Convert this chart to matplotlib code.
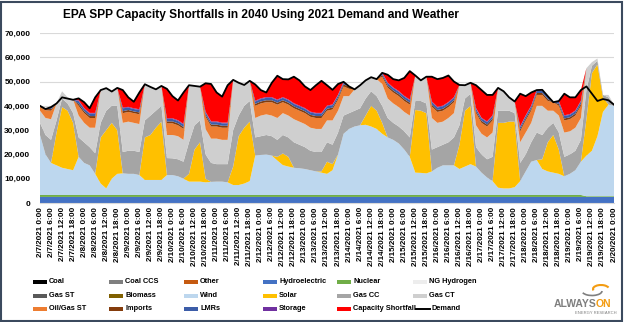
import matplotlib
matplotlib.use("Agg")
import matplotlib.pyplot as plt
from matplotlib.patches import Rectangle, Arc
from matplotlib.lines import Line2D
from matplotlib.ticker import FuncFormatter
import numpy as np

plt.rcParams['font.family'] = ['Liberation Sans', 'DejaVu Sans']

# hours since 2/7/2021 0:00, sampled every 3 hours
hours = list(range(0, 313, 3))

tick_labels = [
    "2/7/2021 0:00", "2/7/2021 6:00", "2/7/2021 12:00", "2/7/2021 18:00",
    "2/8/2021 0:00", "2/8/2021 6:00", "2/8/2021 12:00", "2/8/2021 18:00",
    "2/9/2021 0:00", "2/9/2021 6:00", "2/9/2021 12:00", "2/9/2021 18:00",
    "2/10/2021 0:00", "2/10/2021 6:00", "2/10/2021 12:00", "2/10/2021 18:00",
    "2/11/2021 0:00", "2/11/2021 6:00", "2/11/2021 12:00", "2/11/2021 18:00",
    "2/12/2021 0:00", "2/12/2021 6:00", "2/12/2021 12:00", "2/12/2021 18:00",
    "2/13/2021 0:00", "2/13/2021 6:00", "2/13/2021 12:00", "2/13/2021 18:00",
    "2/14/2021 0:00", "2/14/2021 6:00", "2/14/2021 12:00", "2/14/2021 18:00",
    "2/15/2021 0:00", "2/15/2021 6:00", "2/15/2021 12:00", "2/15/2021 18:00",
    "2/16/2021 0:00", "2/16/2021 6:00", "2/16/2021 12:00", "2/16/2021 18:00",
    "2/17/2021 0:00", "2/17/2021 6:00", "2/17/2021 12:00", "2/17/2021 18:00",
    "2/18/2021 0:00", "2/18/2021 6:00", "2/18/2021 12:00", "2/18/2021 18:00",
    "2/19/2021 0:00", "2/19/2021 6:00", "2/19/2021 12:00", "2/19/2021 18:00",
    "2/20/2021 0:00",
]

# values in thousand MW
demand = [
    40.0, 38.7, 39.5, 41.0, 43.5, 43.0, 42.5,
    43.1, 41.5, 39.0, 43.5, 46.5, 47.3, 45.9, 47.4,
    46.5, 43.5, 41.7, 45.5, 48.9, 47.8, 46.8, 48.2,
    47.0, 44.0, 42.2, 45.5, 48.5, 48.2, 47.9,
    49.3, 49.0, 45.5, 43.8, 48.5, 50.7, 49.5, 48.6, 50.3,
    48.8, 46.5, 45.5, 49.5, 52.4, 51.0, 50.9, 52.0, 50.5,
    48.0, 46.5, 48.5, 50.3, 48.5, 46.6, 49.0, 49.9,
    48.0, 46.8, 48.5, 50.5, 51.8, 51.0, 53.6,
    52.8, 51.0, 50.5, 51.5, 54.3, 52.5, 50.5, 52.0,
    52.0, 51.0, 51.5, 52.5, 50.0, 48.6, 48.5, 49.5,
    48.5, 46.5, 44.5, 44.5, 47.4, 46.0, 43.5, 41.8,
    45.0, 44.0, 45.5, 46.5, 46.6, 44.0, 41.5, 42.0,
    45.0, 43.5, 43.5, 46.5, 48.0, 45.0, 42.0, 42.8, 42.3, 40.5,
]

hydro = [
    2.5, 2.5, 2.5, 2.5, 2.5, 2.5, 2.5, 2.5, 2.5, 2.5, 2.5, 2.5, 2.5, 2.5, 2.5,
    2.5, 2.5, 2.5, 2.5, 2.5, 2.5, 2.5, 2.5, 2.5, 2.5, 2.5, 2.5, 2.5, 2.5, 2.5,
    2.5, 2.5, 2.5, 2.5, 2.5, 2.5, 2.5, 2.5, 2.5, 2.5, 2.5, 2.5, 2.5, 2.5, 2.5,
    2.5, 2.5, 2.5, 2.5, 2.5, 2.5, 2.5, 2.5, 2.5, 2.5, 2.5, 2.5, 2.5, 2.5, 2.5,
    2.5, 2.5, 2.5, 2.5, 2.5, 2.5, 2.5, 2.5, 2.5, 2.5, 2.5, 2.5, 2.5, 2.5, 2.5,
    2.5, 2.5, 2.5, 2.5, 2.5, 2.5, 2.5, 2.5, 2.5, 2.5, 2.5, 2.5, 2.5, 2.5, 2.5,
    2.5, 2.5, 2.5, 2.5, 2.5, 2.5, 2.5, 2.5, 2.5, 2.5, 2.5, 2.5, 2.5, 2.5, 2.5,
]

nuclear = [
    0.8, 0.8, 0.8, 0.8, 0.8, 0.8, 0.8, 0.8, 0.8, 0.8, 0.8, 0.8, 0.8, 0.8, 0.8,
    0.8, 0.8, 0.8, 0.8, 0.8, 0.8, 0.8, 0.8, 0.8, 0.8, 0.8, 0.8, 0.8, 0.8, 0.8,
    0.8, 0.8, 0.8, 0.8, 0.8, 0.8, 0.8, 0.8, 0.8, 0.8, 0.8, 0.8, 0.8, 0.8, 0.8,
    0.8, 0.8, 0.8, 0.8, 0.8, 0.8, 0.8, 0.8, 0.8, 0.8, 0.8, 0.8, 0.8, 0.8, 0.8,
    0.8, 0.8, 0.8, 0.8, 0.8, 0.8, 0.8, 0.8, 0.8, 0.8, 0.8, 0.8, 0.8, 0.8, 0.8,
    0.8, 0.8, 0.8, 0.8, 0.8, 0.8, 0.8, 0.8, 0.8, 0.8, 0.8, 0.8, 0.8, 0.8, 0.8,
    0.8, 0.8, 0.8, 0.8, 0.8, 0.8, 0.8, 0.8, 0.8, 0.3, 0.3, 0.3, 0.3, 0.3, 0.3,
]

wind = [
    24.7, 16.7, 13.2, 12.2, 11.2, 10.7, 10.2,
    15.7, 13.2, 12.2, 8.7, 4.7, 2.7, 6.7, 8.7,
    8.9, 8.7, 8.7, 8.2, 6.2, 6.2, 6.2, 6.2,
    8.2, 8.2, 7.7, 6.7, 5.5, 5.5, 5.5,
    5.2, 5.4, 5.5, 5.5, 5.2, 4.1, 4.1, 4.7, 5.7,
    16.2, 16.5, 16.7, 16.2, 14.2, 12.3, 11.7, 11.2, 11.0,
    10.7, 10.2, 9.7, 9.2, 8.7, 10.2, 16.7, 25.2,
    27.2, 28.2, 28.7, 28.9, 28.2, 27.2, 25.2,
    23.7, 22.7, 21.2, 18.7, 15.7, 9.2, 9.1, 8.9,
    9.7, 11.2, 12.2, 12.2, 12.2, 10.7, 11.7, 12.7,
    11.7, 9.2, 7.2, 5.7, 3.0, 2.7, 2.7, 3.2,
    5.7, 9.7, 13.7, 14.4, 10.7, 9.7, 9.2, 8.7,
    7.7, 8.7, 10.2, 13.7, 16.7, 18.7, 24.7, 34.7, 37.7, 37.2,
]

solar = [
    0, 0, 0, 13.5, 25, 24, 19.5,
    0, 0, 0, 0, 19, 24, 23, 18,
    0, 0, 0, 0, 17.5, 18.5, 21.5, 24,
    0, 0, 0, 0, 3.2, 13.2, 16.2,
    1.5, 0, 0, 0, 0, 7.6, 20.1, 23, 24.5,
    0, 0, 0, 0, 1.5, 4.8, 4, 0, 0,
    0, 0, 0, 0.5, 5, 2.5, 0, 0,
    0, 0, 0, 3.8, 8.5, 7.5, 4.5,
    0, 0, 0, 0, 0, 25.8, 25.6, 24.8,
    0, 0, 0, 0, 0, 10, 23, 24,
    0, 0, 0, 0, 26.7, 27, 27.5, 27,
    0, 0, 0, 0, 4, 12, 15.5, 10,
    0, 0, 0, 0, 15, 32, 29.5, 6, 0, 0,
]

gas_cc = [
    5, 8, 9.5, 5, 3.5, 3, 4,
    8, 8.5, 7.5, 8.5, 6, 8, 7, 10,
    8.8, 9.5, 9.5, 9.5, 7, 8, 7, 6.5,
    7, 6.9, 7, 7, 13, 10, 9,
    10, 7.8, 7.2, 7.2, 7.5, 15, 8.5, 9, 8.5,
    7.5, 7.7, 8, 8, 7, 7.6, 8, 10.5, 9.7,
    9, 8, 8, 8, 8, 8, 9, 7.5,
    6.5, 6.5, 7, 7, 6, 6, 7,
    8, 7, 7, 7.5, 8, 3.7, 4, 4,
    9, 8.5, 8.5, 9.5, 11.5, 8, 5, 5,
    8, 7.5, 7.5, 10, 5, 5, 4.5, 3.5,
    7.5, 7, 8, 11.3, 10, 6, 5, 7,
    8, 8, 8, 9, 12, 3, 1.5, 1, 3, 0.5,
]

gas_ct = [
    5, 7, 8.5, 7, 3, 2.5, 5.5,
    9, 8, 8, 10.5, 13.5, 9.3, 5.9, 7.4,
    12, 12, 11.5, 11.5, 14.9, 11.8, 8.8, 8.2,
    9.5, 9.6, 9.5, 9, 23.5, 16.2, 13.9,
    10.5, 10, 10.5, 10, 10, 20.7, 13.5, 8.6, 8.3,
    8, 8.5, 8.5, 8.5, 9, 9, 9, 9.5, 9.5,
    9.5, 9.5, 9.5, 9.5, 9, 10, 9, 8,
    7, 8.8, 9.5, 7.5, 5.8, 7, 9,
    8, 8, 8, 8, 9, 10.5, 8.5, 11,
    13, 10, 9.5, 10, 10, 16.6, 5.5, 4.5,
    9, 8.5, 9, 10, 9.4, 8, 5.5, 4.8,
    8.5, 9, 8, 11, 12, 7, 5, 7,
    10, 9.5, 9.5, 9, 9, 1.5, 1, 0, 1, 0,
]

oil_gas_st = [
    1.5, 3.2, 3.5, 0, 0, 0, 0,
    4, 4, 4, 4, 0, 0, 0, 0,
    4, 4, 4, 4, 0, 0, 0, 0,
    4.8, 4.8, 4.5, 4.5, 0, 0, 0,
    5, 5, 5, 5, 5, 0, 0, 0, 0,
    5, 5, 5, 5.5, 5.5, 4.5, 4.5, 4.5, 4.5,
    4.5, 4.5, 4.5, 4.5, 4, 4.5, 4.5, 4,
    3, 0, 0, 0, 0, 0, 3,
    4.5, 4.5, 4.5, 4.5, 4.5, 0, 0, 0,
    4.7, 4.5, 4.5, 4.5, 4.5, 0, 0, 0,
    5, 4.5, 4.5, 5, 0, 0, 0, 0,
    4.5, 5, 5, 4.5, 4.5, 4, 3.5, 4,
    5, 5, 5, 5, 0, 0, 0, 0, 0, 0,
]

imports = [
    0.5, 0.5, 0.7, 0, 0, 0, 0,
    0.8, 0.8, 0.8, 0.8, 0, 0, 0, 0,
    0.8, 0.8, 0.7, 0.8, 0, 0, 0, 0,
    0.8, 0.8, 0.8, 0.8, 0, 0, 0,
    0.8, 0.8, 0.8, 0.8, 0.8, 0, 0, 0, 0,
    0.8, 0.8, 0.8, 0.8, 0.8, 0.8, 0.8, 0.8, 0.8,
    0.8, 0.8, 0.8, 0.8, 0.8, 0.8, 0.8, 0.8,
    1.0, 0, 0, 0, 0, 0, 0.7,
    0.8, 0.8, 0.8, 0.8, 0.8, 0, 0, 0,
    0.8, 0.8, 0.8, 0.8, 0.8, 0, 0, 0,
    0.8, 0.8, 0.8, 0.8, 0, 0, 0, 0,
    0.8, 0.8, 0.8, 0.8, 0.8, 0.8, 0, 0.8,
    0.8, 0.8, 0.8, 0.8, 0, 0, 0, 0, 0, 0,
]

lmrs = [
    0, 0, 0.8, 0, 0, 0, 0,
    1.2, 1.0, 1.0, 1.0, 0, 0, 0, 0,
    1.2, 1.0, 1.0, 1.0, 0, 0, 0, 0,
    1.0, 1.0, 1.0, 1.0, 0, 0, 0,
    1.0, 1.0, 1.0, 1.0, 1.0, 0, 0, 0, 0,
    1.0, 1.0, 1.0, 1.0, 1.0, 1.0, 1.0, 1.0, 1.0,
    1.0, 1.0, 1.0, 1.0, 1.0, 1.0, 1.0, 0.7,
    0, 0, 0, 0, 0, 0, 0.7,
    1.0, 1.0, 1.0, 1.0, 1.0, 0, 0, 0,
    1.0, 1.0, 1.0, 1.0, 1.0, 0, 0, 0,
    1.0, 1.0, 1.0, 1.0, 0, 0, 0, 0,
    1.0, 1.0, 1.0, 0.9, 1.0, 0.9, 0, 0.9,
    1.0, 1.0, 1.0, 1.0, 0, 0, 0, 0, 0, 0,
]

storage = [
    0, 0, 0, 0, 0, 0, 0,
    0.3, 0.3, 0.3, 0.3, 0, 0, 0, 0,
    0.3, 0.3, 0.3, 0.3, 0, 0, 0, 0,
    0.3, 0.3, 0.3, 0.3, 0, 0, 0,
    0.3, 0.3, 0.3, 0.3, 0.3, 0, 0, 0, 0,
    0.3, 0.3, 0.3, 0.3, 0.3, 0.3, 0.3, 0.3, 0.3,
    0.3, 0.3, 0.3, 0.3, 0.3, 0.3, 0.3, 0.4,
    0, 0, 0, 0, 0, 0, 0.2,
    0.3, 0.3, 0.3, 0.3, 0.3, 0, 0, 0,
    0.3, 0.3, 0.3, 0.3, 0.3, 0, 0, 0,
    0.3, 0.3, 0.3, 0.3, 0, 0, 0, 0,
    0.3, 0.3, 0.3, 0.3, 0.3, 0.3, 0, 0.3,
    0.3, 0.3, 0.3, 0.3, 0, 0, 0, 0, 0, 0,
]

shortfall = [
    0, 0, 0, 0, 0, 0, 0,
    0.8, 2.4, 1.9, 6.4, 0, 0, 0, 0,
    7.2, 3.9, 2.7, 6.9, 0, 0, 0, 0,
    12.1, 9.1, 8.1, 12.9, 0, 0, 0,
    11.7, 15.4, 11.9, 10.7, 15.4, 0, 0, 0, 0,
    6.7, 3.4, 1.9, 5.9, 9.8, 7.4, 8.3, 10.9, 10.4,
    8.9, 8.9, 11.4, 13.2, 8.4, 6.0, 4.4, 0,
    0, 0, 0, 0, 0, 0, 0,
    3.2, 3.4, 4.4, 7.4, 11.7, 0, 0, 0,
    10.2, 11.4, 11.4, 10.9, 6.4, 0, 0, 0,
    9.4, 11.4, 10.9, 8.4, 0, 0, 0, 0,
    13.4, 7.9, 5.4, 0, 0, 0, 0, 0,
    8.9, 6.9, 5.4, 4.4, 0, 0, 0, 0, 0, 0,
]

series_names = ["Hydroelectric", "Nuclear", "Wind", "Solar", "Gas CC", "Gas CT",
                "Oil/Gas ST", "Imports", "LMRs", "Storage", "Capacity Shortfall"]
series_vals = [hydro, nuclear, wind, solar, gas_cc, gas_ct,
               oil_gas_st, imports, lmrs, storage, shortfall]

legend_labels = ["Coal", "Coal CCS", "Other", "Hydroelectric", "Nuclear", "NG Hydrogen",
                 "Gas ST", "Biomass", "Wind", "Solar", "Gas CC", "Gas CT",
                 "Oil/Gas ST", "Imports", "LMRs", "Storage", "Capacity Shortfall", "Demand"]

color_map = {
    "Coal": "#000000", "Coal CCS": "#7F7F7F", "Other": "#C55A11",
    "Hydroelectric": "#4472C4", "Nuclear": "#70AD47", "NG Hydrogen": "#EDEDED",
    "Gas ST": "#595959", "Biomass": "#806000", "Wind": "#BDD7EE",
    "Solar": "#FFC000", "Gas CC": "#A5A5A5", "Gas CT": "#CFCFCF",
    "Oil/Gas ST": "#ED7D31", "Imports": "#843C0C", "LMRs": "#3C5DA8",
    "Storage": "#7030A0", "Capacity Shortfall": "#FF0000", "Demand": "#000000",
}

W, H = 624, 322
fig = plt.figure(figsize=(W / 100, H / 100), dpi=100)
fig.patch.set_facecolor("white")

ax = fig.add_axes([40 / W, 1 - 203 / H, 574 / W, 170 / H])
x = np.array(hours)
ax.stackplot(x, *[np.array(v) * 1000 for v in series_vals],
             colors=[color_map[n] for n in series_names], linewidth=0)
ax.plot(x, np.array(demand) * 1000, color="black", lw=1.3, zorder=5)

ax.set_xlim(0, 312)
ax.set_ylim(0, 70000)
ax.set_yticks(range(0, 70001, 10000))
ax.yaxis.set_major_formatter(FuncFormatter(lambda v, p: f"{int(v):,}"))
ax.set_xticks([i * 6 for i in range(len(tick_labels))])
ax.set_xticklabels(tick_labels, rotation=90, fontsize=5.8, fontweight="bold")
ax.tick_params(axis="both", length=0)
ax.tick_params(axis="y", labelsize=6, pad=7)
for lab in ax.get_yticklabels():
    lab.set_fontweight("bold")
ax.tick_params(axis="x", pad=3)
ax.yaxis.grid(True, color="#D9D9D9", lw=0.8)
ax.set_axisbelow(True)
for s in ["top", "right", "left"]:
    ax.spines[s].set_visible(False)
ax.spines["bottom"].set_color("#D9D9D9")

fig.text(261 / W, 1 - 15 / H,
         "EPA SPP Capacity Shortfalls in 2040 Using 2021 Demand and Weather",
         ha="center", va="center", fontsize=8.6, fontweight="bold")

# legend drawn manually in a 6 x 3 grid
col_x = [33, 109, 184, 263, 337, 413]
row_y = [281.5, 295.5, 309]
for i, lab in enumerate(legend_labels):
    r, c = divmod(i, 6)
    px = col_x[c]
    py = row_y[r]
    if lab == "Demand":
        fig.add_artist(Line2D([(px + 3) / W, (px + 17) / W], [1 - py / H, 1 - py / H],
                              color="black", lw=1.4))
        fig.text((px + 19) / W, 1 - py / H, lab, ha="left", va="center",
                 fontsize=5.3, fontweight="bold")
    else:
        fig.add_artist(Rectangle((px / W, 1 - (py + 2) / H), 14 / W, 4 / H,
                                 facecolor=color_map[lab], edgecolor="none"))
        fig.text((px + 16) / W, 1 - py / H, lab, ha="left", va="center",
                 fontsize=5.3, fontweight="bold")

# logo
fig.add_artist(Arc(((592) / W, 1 - 291 / H), 20 / W, 9 / H, theta1=200, theta2=360,
                   color="#7F7F7F", lw=1.2))
fig.add_artist(Arc(((601) / W, 1 - 289 / H), 16 / W, 8 / H, theta1=20, theta2=200,
                   color="#F39C12", lw=1.5))
fig.text(596 / W, 1 - 304 / H, "ALWAYS", ha="right", va="center",
         fontsize=7.5, fontweight="bold", color="#7F7F7F",
         family=["Liberation Sans Narrow", "Liberation Sans"])
fig.text(596 / W, 1 - 304 / H, "ON", ha="left", va="center",
         fontsize=7.5, fontweight="bold", color="#F39C12",
         family=["Liberation Sans Narrow", "Liberation Sans"])
fig.text(596 / W, 1 - 313 / H, "ENERGY RESEARCH", ha="center", va="center",
         fontsize=3, color="#7F7F7F")

# outer border
fig.add_artist(Rectangle((1 / W, 1 / H), (W - 3) / W, (H - 3) / H,
                         fill=False, edgecolor="#3B4A5E", lw=1.5))

fig.savefig("out.png", dpi=100)
